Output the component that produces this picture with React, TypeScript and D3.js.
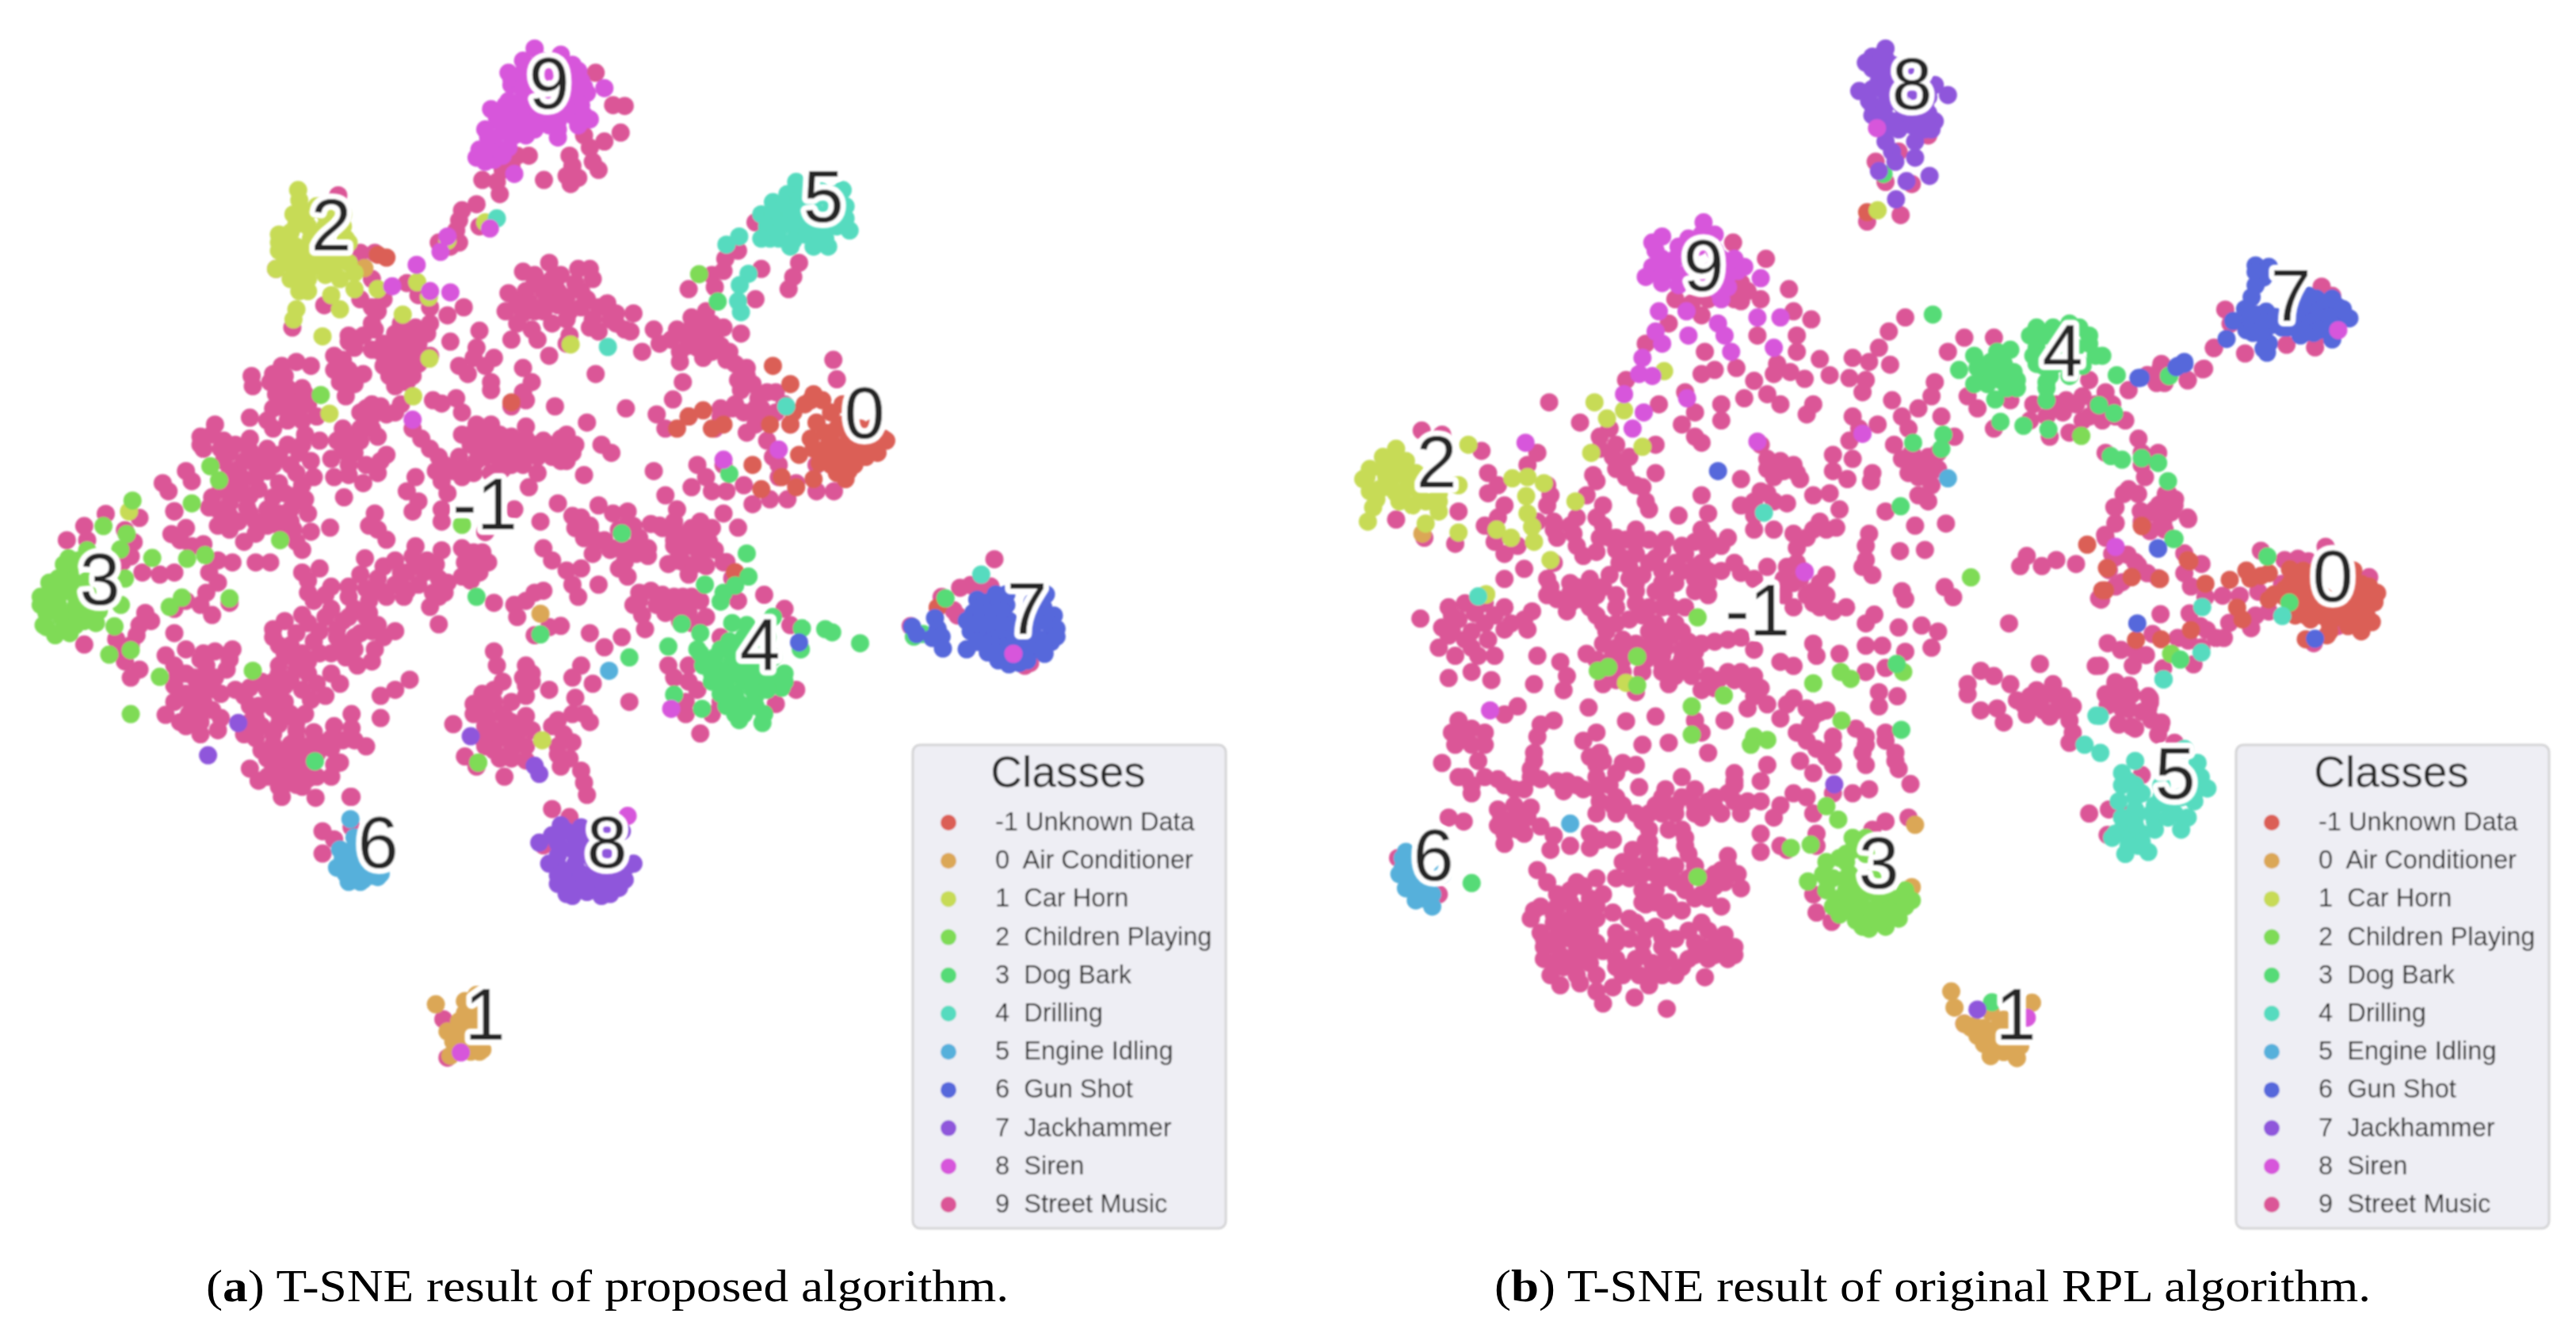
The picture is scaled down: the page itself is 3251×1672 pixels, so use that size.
import React from "react";
import * as d3 from "d3";

const palette = ["#db5f57","#dba757","#c7db57","#7fdb57","#57db77","#57dbbf","#57b0db","#5767db","#8f57db","#d757db","#db5797"];
const legendTitle = "Classes";
const legendLabels = ["-1 Unknown Data","0  Air Conditioner","1  Car Horn","2  Children Playing","3  Dog Bark","4  Drilling","5  Engine Idling","6  Gun Shot","7  Jackhammer","8  Siren","9  Street Music"];
const captionA = ["a",") T-SNE result of proposed algorithm."];
const captionB = ["b",") T-SNE result of original RPL algorithm."];
type P = [number, number];

// ---- Panel A, upper view
const a1Music: P[] = [[1025,180],[1055,260],[1075,262],[1068,328],[1040,350],[1015,365],[1005,335],[980,385],[1020,400],[985,410],[1030,420],[975,435],[995,440],[982,455],[936,445],[890,385],[910,385],[880,410],[865,420],[830,445],[855,450],[860,480],[990,225],[820,505],[795,520],[790,545],[785,570],[825,560],[790,600],[755,600],[775,610],
[582,483],[620,625],[645,625],[625,660],[640,690],[620,740],[558,755],[503,810],[475,665],[640,760],[660,740],[700,700],[720,730],[740,760],[770,780],[798,760],
[650,770],[640,800],[690,800],[715,810],[740,800],[600,830],[625,830],[610,860],[590,890],[575,880],[660,850],[680,850],[720,850],[665,880],[690,880],[700,920],[660,905],[725,830],[775,845],[825,818],[820,860],[850,885],[815,885],[790,905],[805,925],[835,905],[845,945],[845,965],[900,910],[915,945],[900,970],[905,990],[880,1005],
[575,915],[600,915],[585,945],[625,925],[610,950],[595,980],[680,955],[700,945],[710,930],[745,990],[760,998],[785,985],[795,1020],[795,1075],[810,1100],
[535,905],[510,895],[485,905],[470,925],[433,930],[435,955],[480,950],[490,985],[475,975],[505,990],[530,1000],[510,1015],[520,1040],[430,1033],[460,1040],[495,1040],[470,1060],
[630,1010],[655,1005],[680,1020],[640,1030],[665,1025],[710,1060],[725,1085],[740,1110],[755,1130],[765,1150],[790,1130],[800,1160],[795,1180],[820,1050],[845,1050],[905,1055],[830,1080],[860,1075],[880,1080],[820,1110],[850,1100],[880,1110],[835,1130],[860,1140],[900,1150],[925,1170],[910,1205],[845,1170],[920,1100],[945,1100],[975,1075],[965,1110],[990,1100],[950,1130],[975,1140],[1005,1175],[1010,1045],[1035,1100],[1052,1120],[1125,1165],
[640,1060],[620,1060],[600,1080],[580,1090],[590,1115],[610,1120],[570,1135],[600,1150],[600,1175],[625,1195],[655,1140],[665,1125],[650,1080],
[370,1050],[345,1080],[365,1075],[385,1090],[430,1085],[395,1120],[430,1115],[460,1110],[385,1140],[410,1160],[440,1150],[320,1165],[330,1190],[280,1195],[290,1215],[300,1265],[400,1190],[440,1180],[480,1195],[510,1170],[515,1120],[550,1090],[525,1075],[495,1100],[500,1150],[520,1200],[380,1200],[410,1220],[445,1210],[395,1245],[425,1255],[375,1260],[410,1290],[440,1290],[480,1270],[510,1240],[530,1270],[500,1290],[460,1300],[420,1340],[375,1300],[520,1360],[535,1315],[568,1305],[592,1230],
[715,1180],[700,1215],[720,1240],[710,1265],[770,1220],[760,1260],[760,1290],[885,1260],[930,1290],[960,1245],[645,1270],[635,1300],[665,1335],[650,1310],
[900,672],[945,650],[995,665],[1015,665],[950,690],[930,700],[990,700],[875,725],[935,720],[960,720],[1000,720],[890,750],[870,770],[920,770],[960,755],[1000,760],[1045,750],[890,800],[915,815],[880,840],[975,790],[1020,790],[1050,790],[1090,775],[1030,820],[1075,815],[1125,815],[945,880],[975,850],[1025,925],[1105,870],[1135,850],[1165,815],[1190,785],[1215,770],[1180,830],[1205,825],[1230,830],[1170,870],[1200,860],[1240,855],[1275,825],[1255,870],[1265,900],[1285,910],[1270,940],[1295,950],[1305,985],[1335,970],[1310,1010],[1280,1020],[1265,1000],[1240,1010],[1300,1050],[1335,1020],[1434,890],[1440,938],[1175,945],[1158,988],[1077,1010],[955,1005],
[1248,640],[1270,620],[1245,670],[1225,680],[1185,715],[1230,710],[1310,665],[1300,740],[1375,650],[1365,685],[1357,715],[1300,550],
[1130,1025],[1145,1060],[1185,1030],[1240,1030],[1260,1010],[1230,1060],[1285,1070],[1320,1090],[1330,1130],[1360,1050],[1340,1180],[1405,1150],[1200,1150],[1215,1180],[1190,1205],[1225,1215],[1250,1215],[1280,1200],[1245,1150],[1340,1150],[1370,1195],[1405,1215],[1435,1215],[1355,1235],[1325,1235],[1295,1247],
[1145,1225],[1165,1260],[1245,1270],[1270,1305],[1030,1250],[1055,1270],[1080,1265],[1000,1280],[1000,1310],[1020,1330],[1050,1360],[1085,1300],[1100,1330],[1135,1300],[1080,1355],[1115,1375],[1165,1320],[1190,1310],[1220,1310],[1160,1350],[1200,1360],[1175,1390],[1215,1400],[1260,1430]];
const a1MusicDense: P[] = [[920,680],[965,680],[920,700],[955,705],[975,735],[1020,690],[905,720],[940,745],[910,745],[900,775],[935,770],[950,800],[980,770],[1010,740],[1030,760],[1060,775],[1015,810],[980,830],[925,840],[1060,800],[1085,820],
[600,845],[645,815],[680,825],[705,830],[735,825],[640,865],[655,870],[700,860],[705,890],[680,915],[670,930],[720,900],[720,875],[740,880],
[490,930],[465,945],[495,960],[525,975],[520,960],[545,1030],[490,1010],[470,1010],[640,1000],[620,1020],[690,1000],
[345,1100],[380,1110],[405,1100],[420,1140],[455,1130],[470,1150],[395,1170],[420,1185],[460,1165],[480,1125],[520,1100],[535,1140],[540,1180],[515,1220],[490,1220],[470,1230],[430,1225],[390,1215],[365,1230],[360,1255],[395,1275],[430,1270],[460,1260],[500,1260],[525,1235],[395,1310],[440,1320],[480,1300],[505,1310],[510,1340],[350,1110],
[815,1070],[840,1090],[860,1110],[885,1090],[905,1085],[845,1120],[865,1160],[880,1150],[820,1140],[815,1170],[900,1120],[925,1130],[945,1120],[965,1085],[935,1090],[965,1140],[985,1120],
[1190,810],[1215,800],[1225,800],[1155,840],[1185,855],[1215,850],[1245,810],[1225,870],[1170,895],[1210,885],[1250,890],[1285,930],[1275,965],[1300,1010],[1320,970],[1320,1030],[1350,1000],
[1015,1300],[1040,1340],[1065,1310],[1075,1390],[1095,1370],[1150,1395],[1190,1350],[1220,1340],[1180,1330],[1205,1290],[1160,1290],[1230,1360],[1250,1390],[1020,1370],
[590,1060],[620,1090],[630,1150],[650,1170],[575,1180],[750,1165],[780,1165],[760,1190]];
const a1Siren: P[] = [[920,120],[965,135],[875,180],[900,150],[945,170],[980,170],[1000,200],[1010,230],[985,265],[950,290],[960,320],[960,340],[920,265],[900,240],[875,250],[845,270],[885,280],[920,320],[895,310],[860,300],[835,320],[850,355],[820,390],[850,395],[875,365],[1015,295],[995,310],[1040,218],[885,430],[905,205],[880,210],[930,240],[985,210],[955,245],[1000,260],[717,655],[675,708],[740,720],[775,723],[770,585],[758,623],[843,565],[1245,1137],[1340,1112],[710,1038],
[930,150],[960,150],[985,160],[900,180],[930,190],[960,190],[995,175],[880,195],[900,215],[925,215],[960,215],[985,235],[1005,215],[870,260],[890,260],[915,255],[945,265],[965,265],[985,285],[1005,285],[855,290],[880,300],[905,290],[935,300],[945,310],[840,340],[865,325],[885,335],[905,335],[825,370],[845,375],[865,385],[835,400],[920,300],[960,300]];
const a1Horn: P[] = [[513,470],[515,495],[545,510],[505,530],[480,580],[530,560],[500,600],[480,620],[515,630],[550,620],[590,560],[600,650],[575,660],[540,660],[510,670],[475,665],[530,720],[520,690],[570,730],[610,715],[650,715],[585,765],[510,765],[505,790],[555,832],[718,698],[738,735],[693,778],[739,887],[711,980],[567,1023],[982,852],[222,1265],[540,580],[560,600],[500,640],[600,600],[770,595],[835,550],
[530,525],[560,530],[510,555],[500,575],[535,590],[560,560],[595,590],[480,600],[510,610],[530,620],[570,620],[490,650],[525,645],[555,645],[585,640],[610,675],[560,680],[530,690],[500,690],[585,690],[515,720],[590,530]];
const a1Drill: P[] = [[1400,445],[1355,480],[1330,500],[1310,530],[1350,530],[1390,530],[1440,480],[1455,510],[1455,540],[1462,570],[1420,560],[1385,580],[1425,610],[1360,610],[1325,590],[1370,570],[1410,470],[1370,450],[1250,605],[1272,585],[1288,677],[1273,705],[1270,745],[1275,772],[855,540],[1046,858],[1353,1005],
[1380,470],[1350,505],[1375,500],[1400,500],[1430,500],[1450,470],[1330,530],[1370,530],[1410,530],[1435,530],[1320,560],[1345,560],[1370,545],[1395,555],[1440,560],[1340,590],[1400,590],[1400,610],[1310,590],[1420,590],[1365,595]];
const a1Unknown: P[] = [[1330,905],[1360,950],[1400,975],[1395,990],[1450,1000],[1365,1020],[1405,1045],[1360,1050],[1395,1085],[1440,1060],[1480,1060],[1520,1085],[1490,1100],[1450,1110],[1420,1110],[1510,1120],[1375,1125],[1410,1145],[1460,1165],[1440,1170],[1455,1185],[1400,1185],[1370,1205],[1345,1180],[1310,1210],[1295,1150],[1325,1050],[1210,1015],[1185,1030],[1225,1060],[1245,1050],[1165,1060],[880,995],[665,637],[650,630],[1500,1060],[1460,1130],[1265,1415],
[1420,1070],[1450,1050],[1470,1080],[1500,1080],[1430,1090],[1460,1090],[1400,1110],[1440,1130],[1480,1120],[1430,1150],[1470,1150],[1450,1140],[1525,1090],[1490,1130],[1385,1000],[1415,990],[1430,1020]];
const a1Kids: P[] = [[1203,678],[552,977],[377,1188],[362,1153],[330,1245]];
const a1Dog: P[] = [[1235,746],[1255,1172]];
const a1Air: P[] = [[627,663]];

// ---- Panel A, lower view
const a2Music: P[] = [[145,125],[115,160],[182,95],[240,105],[215,135],[230,165],[150,160],[225,200],[145,418],
[300,88],[295,145],[320,130],[310,160],[330,175],[350,170],[245,240],[275,245],[300,240],[210,215],[240,370],[250,340],[235,395],[200,405],[215,460],[225,500],[300,390],[300,330],[320,310],
[375,210],[400,215],[440,215],[465,215],[360,240],[375,265],[355,290],[345,320],[365,345],[395,315],
[520,240],[550,230],[530,260],[570,275],[600,275],[620,245],[628,205],[660,225],[690,240],[715,175],[710,200],[730,240],[755,255],[760,185],[765,290],[695,300],[740,325],[755,368],[655,285],[635,310],[610,330],[570,330],[540,310],[520,345],[490,360],[470,380],[510,390],[550,385],[590,360],[630,350],[650,370],
[470,400],[500,420],[540,410],[580,400],[620,390],[645,430],[680,385],[610,430],[570,440],[615,470],[530,460],[490,440],[510,480],[470,510],[545,515],[585,515],[535,555],[490,520],[460,530],[430,525],[400,430],[370,435],[350,440],[320,430],[285,445],[300,470],[320,490],[355,470],[390,480],[370,500],[300,520],[340,520],[310,550],[350,560],[380,540],[405,530],[285,592],[320,620],[345,640],[375,630],[430,570],[465,555],[440,600],[480,590],[510,610],[525,590],[420,640],[470,640],[510,650],[550,660],[590,655],[630,670],[605,625],[575,620],[605,590],[655,600],[655,545],[680,530],[705,505],[450,680],[490,680],[530,690],[575,715],[585,710],[430,725],[445,755],[490,730],[520,720],[480,770],[510,765],[545,745],[570,745],[485,795],[543,797],[605,795],[495,700],
[850,435],[855,470],[865,510],[905,470],[915,510],[905,545],[850,530],[815,565],[880,560],[945,530],[835,575],[865,590],[780,615],[835,620],[870,625],[905,595],[830,650],[860,650],[890,640],[915,630],[905,670],[880,680],[860,700],[800,695],[820,720],[905,705],[868,745],[960,605],[970,640],[950,620],[985,660],[960,690],[980,700],[990,550],[1005,590],[1015,610],[1000,730],[1005,760],[1010,790],[1083,560],[1020,515],[1000,470],[985,500],[1015,390],[1040,425],[1070,400],
[885,320],[920,290],[890,350],[905,310],[935,285],[945,375],[965,372],[920,395],
[795,180],[810,210],[825,240],[795,250],[850,315],[815,190],[835,140],
[935,180],[950,210],[975,235],[1000,230],[985,270],[995,300],[1030,270],[1065,230],[1080,250],[1090,320],[1105,345],[1110,380],[1120,285],[1160,300],[1170,330],[1145,340],[1185,340],[1200,370],[1215,350],[1190,300],[1160,130],[1175,160],[1170,200],[1200,150],[1225,130],[1210,190],[1185,245],[1245,215],[1270,310],[1315,295],[1350,330],[1360,370],
[1150,470],[1160,500],[1185,510],[1200,530],[1180,560],[1225,590],[1180,590],[1205,638],[1335,565],[1370,530],[1240,560],[1185,470],[1240,400],[1260,440],
[763,1345],[770,1440],[603,795],[555,880],[575,900],[555,935],[605,870],[950,825],[980,845],[935,915]];
const a2MusicDense: P[] = [[530,290],[560,295],[600,300],[630,280],[650,255],[680,270],[665,300],[635,340],[600,350],[560,350],[530,365],[580,380],[610,400],[640,385],[660,400],[480,420],[520,440],[550,440],[590,420],[640,460],[595,450],[480,470],[530,490],[570,490],[505,450],[480,490],[500,505],[520,530],[560,545],[450,510],[420,545],[470,545],[490,560],[445,570],[470,575],[500,590],[450,620],[480,615],[430,610],[510,630],[540,635],[570,650],[470,665],[500,665],[520,670],[480,700],[510,700],[460,700],[545,690],[470,720],[500,740],[530,750],[460,745],[495,760],[510,745],[480,745],[520,770],[610,655],[570,675],[440,650],[540,660],
[305,495],[335,500],[320,540],[335,550],[360,530],[365,580],[345,590],[325,590],[300,560],[380,600],[345,610],[355,500],[365,520],[345,455],[310,610],[330,565],[395,440],[395,455],[260,360],[225,420],[240,480],[215,430],
[690,270],[700,240],[720,225],[750,220],[735,210],[720,270],[745,290],[770,265],[700,285],[755,300],[680,210],[815,220],[800,215],[830,190],[840,215],[810,260],
[985,100],[990,130],[1015,130],[1005,155],[1040,160],[1090,125],[1120,120],[1140,130],[1100,170],[1115,180],[1060,180],[1080,120],[1160,160],[1190,130],[1215,170],[1165,210],[1195,220],[1100,290],[1140,295],[1130,320],[1175,300],[1150,320],[1205,310],[1170,360],[1190,365],[1100,310],
[830,540],[850,560],[815,590],[840,600],[870,600],[850,630],[880,610],[900,625],[835,670],[875,650],[850,680],[885,660],[880,700],[905,520],[915,490],[900,500],[985,590],[960,670],[965,720]];
const a2Kids: P[] = [[228,62],[178,125],[218,145],[207,183],[118,205],[150,185],[215,255],[120,240],[85,265],[105,290],[70,320],[100,320],[130,300],[150,330],[120,350],[80,375],[95,395],[120,390],[145,360],[170,335],[165,365],[197,373],[208,320],[262,204],[322,206],[353,197],[482,160],[395,304],[313,302],[292,325],[225,432],[188,443],[275,498],[435,483],[225,590],[795,122],[823,710],
[110,220],[125,260],[150,260],[100,255],[85,290],[125,290],[150,290],[70,300],[100,300],[130,325],[80,340],[105,350],[135,350],[75,370],[110,375],[130,370],[155,350],[90,320],[120,270],[135,210]];
const a2Dog: P[] = [[1070,143],[1285,193],[1288,250],[1213,270],[1265,272],[1245,290],[1240,312],[820,300],[930,393],[1173,367],[1205,390],[1150,423],[1200,430],[1260,365],[1380,378],[1420,380],[1432,388],[1480,415],[1378,430],[1083,450],[1160,542],[1208,577],[542,707],[1272,605],[1312,612],[1240,430],[1280,400],[1330,350],[1260,460],[1210,470],[1240,480],[1300,480],[1350,490],[1240,520],[1280,510],[1320,510],[1345,525],[1250,550],[1280,570],[1300,545],[1320,400],[1280,440],[1330,450],[1225,510],
[1230,450],[1260,430],[1290,440],[1310,430],[1225,470],[1260,490],[1280,480],[1320,480],[1225,490],[1250,510],[1295,510],[1340,500],[1240,540],[1265,540],[1295,530],[1320,530],[1270,560],[1300,570],[1280,590],[1315,590],[1265,590],[1250,570],[1350,510],[1205,440],[1255,410],[1285,370]];
const a2Jack: P[] = [[965,865],[1000,870],[928,908],[960,910],[990,900],[1040,880],[1070,880],[960,965],[990,960],[1020,950],[1050,960],[1080,965],[975,1035],[1000,1020],[1050,1035],[1075,1000],[1030,1010],[975,1000],[1010,990],[960,940],[1000,930],[1040,920],[410,612],[358,692],[810,645],[920,718],[928,738],
[975,880],[950,890],[985,925],[1015,900],[945,960],[970,980],[1000,985],[1030,980],[1060,985],[1090,960],[1075,970],[1000,1000],[1040,1020],[960,1010],[1010,1030],[980,1020],[1060,930],[1065,1020],[1020,925],[1035,1040],[1070,1005],[1050,1000],[985,1040],[1030,960],[960,990]];
const a2Siren: P[] = [[1080,842],[1155,577],[793,1427]];
const a2Engine: P[] = [[603,850],[585,925],[610,920],[600,960],[595,985],[620,1005],[650,993],[635,970],[620,950],[1048,483],[595,935],[620,975],[600,1005],[640,990],[590,945],[610,945],[580,970],[605,985],[625,1000],[655,985],[610,895]];
const a2Air: P[] = [[750,1308],[820,1285],[810,1330],[790,1350],[780,1375],[810,1370],[830,1395],[800,1400],[825,1425],[775,1435],[930,342],[800,1330],[790,1370],[770,1375],[800,1375],[820,1350],[820,1400],[790,1410],[810,1425],[830,1420],[780,1400],[815,1310],[830,1380],[800,1300]];
const a2Unknown: P[] = [[1265,240]];
const a2Gun: P[] = [[1375,413]];
const a2Horn: P[] = [[933,655]];

// ---- Panel A, class 7 close view
const a3Music: P[] = [[465,137],[335,245],[375,235],[450,240],[405,265],[265,280],[310,330],[325,350],[148,390],[580,540],[600,530],[420,260]];
const a3Unknown: P[] = [[250,320]];
const a3Dog: P[] = [[195,420],[160,430],[280,285]];
const a3Gun: P[] = [[153,392],[170,420],[240,360],[250,400],[230,435],[265,430],[270,475],[360,478],[400,290],[385,340],[375,410],[420,350],[440,300],[480,290],[510,310],[520,370],[470,350],[420,420],[470,420],[520,430],[440,490],[480,520],[520,535],[560,480],[610,480],[655,495],[680,420],[690,350],[650,320],[620,380],[640,300],[570,420],[530,490],[600,440],[660,270],
[410,320],[440,340],[490,330],[360,370],[400,380],[440,380],[490,380],[540,420],[620,350],[660,350],[670,380],[700,400],[640,440],[680,450],[650,470],[590,520],[560,530],[450,450],[500,470],[400,450],[540,460],[500,510],[440,460],[470,490],[590,470],[700,430],[610,300],[630,270],[510,270],[470,270]];
const a3Drill: P[] = [[415,195]];
const a3Siren: P[] = [[537,495]];

// ---- Panel B, upper view
const b1Music: P[] = [[945,335],[865,400],[880,450],[920,455],[900,375],[852,548],[903,532],
[648,600],[698,640],[733,715],[690,740],[660,700],[610,740],[585,750],[740,770],[767,790],[745,830],[685,830],[605,870],[550,800],[515,850],[600,780],[745,870],[780,888],[715,900],[620,915],[600,925],[653,910],[795,928],[757,937],[735,920],[710,925],[680,942],[700,975],[720,1000],[770,1000],[760,1025],[665,985],[830,885],[855,895],[887,902],[870,860],[885,820],[910,785],[825,935],[850,940],[845,970],[575,970],[590,1020],[630,1000],[630,1040],[570,1050],[590,1080],[600,1095],[535,1000],[485,940],[368,995],[415,1045],[460,1060],[445,1080],[470,1100],[490,1130],[465,1130],[530,1100],[480,1160],[435,1175],[425,1225],[530,1170],[510,1205],[520,1260],[450,1250],[440,1280],[485,1180],[460,1330],[500,1310],
[174,1065],[205,1075],[265,1115],[135,1285],[230,1265],[225,1345],[178,1330],[350,1120],[275,1170],[275,1220],[290,1280],[270,1300],[285,1340],[300,1370],[335,1150],[365,1200],[365,1250],[375,1290],[380,1330],[320,1350],[410,1280],[405,1320],[420,1375],[445,1330],
[660,1185],[690,1100],[700,1135],[710,1180],[740,1150],[750,1185],[770,1225],[795,1220],[690,1215],[730,1245],[660,1250],[600,1225],[610,1270],[565,1275],[520,1335],[545,1335],[485,1335],[600,1310],[640,1330],[575,1370],[680,1275],[710,1310],[780,1290],[810,1260],[805,1305],[760,1330],[745,1355],[855,1320],[850,1350],[850,1385],[800,1125],[830,1135],[860,1170],[800,1165],[822,1185],[858,1190],[880,1265],[925,1300],[972,1295],[945,1240],[930,1225],[902,1363],[940,1360],
[890,990],[905,1030],[915,1060],[930,1010],[950,980],[955,945],[830,1030],[840,1060],[868,1050],[825,1090],[893,1100],[905,1135],[925,1150],[940,1175],[965,1030],[985,1080],[960,1160],[950,1200],
[975,870],[1000,835],[1045,835],[1005,980],[1020,1010],[1045,1060],[1070,990],[1105,1000],[1125,1030],[1130,1080],[1155,990],[1180,980],[1190,940],[1215,970],[1250,965],[1245,1040],[1265,1085],[1215,1120],[1270,1120],[1295,1120],[1180,1040],[1160,1070],[1300,900],[1340,940],[1365,912],[1380,860],[1270,1150],[1275,1180],[1250,1210],[1310,1220],[1290,1260],[1340,1280],[1305,1310],[1230,1255],[1230,1295],[1215,1330],[1270,1290],
[1095,1375],[1085,1400],[1118,1400],[1140,1385],[1170,1395],[1225,1370],[1220,1410],[1260,1390],[1295,1430],[1205,1480],[1240,1440],
[600,720],[560,740],[650,740],[670,720],[660,745],[720,1140],[725,1165],[745,1170],[700,1160],[680,1240],[710,1240],[700,1220],[1170,1000],[1200,1000],[1190,1030],[1225,1000],[1210,1040],[1150,1020],[1100,1040]];
const b1MusicDense: P[] = [[445,1110],[470,1160],[500,1200],[440,1190],[515,1240],[400,1300],[450,1300],[470,1330],[410,1350],[440,1365],[470,1360],[500,1340],[500,1370],[530,1380],[480,1380],[540,1360],[570,1350],[590,1340],[610,1330],[630,1350],[680,1310],[610,1360],[740,1320],[770,1310],[790,1310],[290,1200],[300,1250],[285,1310],[370,1225],[375,1310],[350,1290],[920,1120],[945,1130],[960,1120],[915,1170],[945,1150],[930,1180],[1300,1250],[1320,1250],[1300,1290],[1280,1270],[1140,1000],[1230,1030]];
const b1Jack: P[] = [[880,120],[860,140],[860,170],[890,160],[840,225],[975,235],[870,200],[900,240],[860,260],[880,290],[910,280],[935,290],[955,300],[950,320],[880,350],[890,375],[925,350],[925,390],[895,400],[870,423],[912,448],[947,435],[896,493],[955,210],[910,170],[880,230],[930,260],
[875,135],[850,155],[875,180],[885,205],[860,220],[855,250],[880,260],[905,205],[900,225],[925,225],[945,240],[905,260],[875,275],[895,300],[860,285],[920,310],[940,260],[945,280],[880,320],[900,320],[940,320],[880,145],[915,280]];
const b1Siren: P[] = [[867,317],[603,550],[540,585],[580,590],[620,580],[530,620],[560,640],[640,660],[515,685],[540,700],[570,680],[655,670],[640,710],[630,740],[690,688],[720,785],[685,785],[535,770],[577,770],[530,820],[580,830],[625,800],[635,830],[645,870],[540,850],[510,885],[505,925],[525,930],[710,860],[482,975],[512,1020],[578,985],[495,1060],[685,1092],[845,1073],[332,1095],[757,1415],
[600,580],[565,610],[595,610],[540,640],[580,640],[620,620],[630,640],[525,660],[555,670],[590,700],[610,700],[615,670],[650,640],[540,680],[565,705],[640,680],[625,720],[665,660],[620,710],[525,600]];
const b1Horn: P[] = [[868,520],[135,1110],[115,1130],[150,1140],[95,1160],[85,1185],[130,1180],[165,1170],[110,1210],[150,1210],[100,1255],[140,1240],[180,1240],[200,1265],[92,1290],[180,1295],[230,1317],[245,1100],[230,1200],[312,1183],[335,1180],[360,1195],[333,1227],[335,1270],[342,1303],[345,1340],[288,1310],[310,1330],[370,1385],[408,1240],[432,1120],[510,1105],[437,995],[456,1035],[482,1015],[543,918],[272,1470],
[135,1130],[115,1160],[150,1165],[90,1180],[125,1205],[170,1195],[105,1235],[135,1220],[170,1215],[200,1220],[120,1180],[155,1190],[190,1240],[160,1250],[200,1240],[95,1215],[130,1150]];
const b1Unknown: P[] = [[852,525],[1187,1347],[1270,1300],[1217,1405],[1210,1460],[1255,1427],[1297,1432],[1340,1385]];
const b1Dog: P[] = [[952,778],[992,915],[1015,880],[1040,895],[1070,865],[1075,920],[1030,920],[1055,940],[1080,960],[1047,988],[1110,810],[1135,810],[1160,800],[1190,830],[1110,860],[1200,880],[1180,905],[1140,900],[1110,900],[1125,960],[1125,990],[1232,928],[1205,1002],[1228,1022],[1055,1043],[1090,1053],[1128,1062],[1223,1128],[1240,1137],[1270,1133],[1295,1145],[968,1075],[965,1110],[922,1095],[903,1252],[1310,1190],[1318,1333],[877,430],
[1125,830],[1155,820],[1175,810],[1120,880],[1140,860],[1170,860],[1190,850],[1210,880],[1130,930],[1160,930],[1105,880],[1100,830],[1120,905],[1125,945],[1050,870],[1020,910],[1045,915],[1060,900],[1080,940],[1035,950],[1015,950],[1065,960]];
const b1Kids: P[] = [[1178,1078],[1312,930],[1010,1428]];
const b1Gun: P[] = [[1265,935],[1325,905],[1335,900],[625,1165],[1295,1357]];
const b1Engine: P[] = [[975,1183]];
const b1Drill: P[] = [[695,1268]];
const b1Air: P[] = [[175,1320]];

// ---- Panel B, lower view
const b2Music: P[] = [[172,158],[215,130],[240,120],[270,120],[300,130],[205,180],[230,160],[270,170],[300,185],[240,210],[260,250],[225,250],[200,230],[285,250],[215,305],[250,290],[280,310],[335,185],[342,140],[370,80],[400,70],[430,60],[380,110],[415,110],[350,250],[385,265],[395,300],[345,320],[390,335],[425,245],
[440,150],[470,130],[500,120],[530,90],[560,70],[590,60],[610,100],[575,130],[520,130],[470,100],[455,190],[490,160],[530,170],[560,170],[555,200],[530,210],[580,215],[450,220],[480,210],[465,250],[515,260],[540,250],[570,260],[540,290],[480,290],[560,300],[500,340],[590,240],[620,215],[640,210],[660,205],[680,235],[720,265],[740,275],[775,250],[770,220],[810,245],[850,170],[850,225],[875,225],[900,180],[910,240],[935,175],[960,190],[950,230],[850,290],[880,280],
[300,60],[330,35],[375,20],[475,20],[490,60],[540,40],[630,40],[680,60],[740,70],[760,100],[740,130],[780,130],[800,140],[820,130],[730,30],[770,90],[863,148],[905,90],[910,110],[970,80],[983,105],[845,30],[860,50],[1068,170],
[680,350],[650,310],[620,330],[600,335],[670,320],[740,355],[700,370],[670,380],[720,405],[760,380],[790,385],[765,420],[745,440],[775,480],[800,470],[835,430],[850,470],[880,460],[870,340],[870,375],[898,350],[895,510],[900,530],[918,567],[850,520],[800,520],[770,540],[750,510],[700,520],[650,540],[650,570],[690,560],[740,590],[720,620],[760,600],[800,590],[830,590],[855,580],[770,640],[710,650],[690,690],[690,735],[730,730],[775,690],[775,720],[880,660],[860,680],[915,650],
[428,378],[485,412],[530,400],[590,410],[635,410],[600,440],[550,465],[510,470],[480,515],[500,520],[440,440],[420,460],[445,490],[355,420],[375,410],[350,450],[440,520],[440,550],[460,570],[470,600],[420,580],[390,585],[440,640],[470,640],[505,575],[545,580],[590,580],[610,610],[560,620],[620,625],[650,610],[690,610],[610,490],[570,550],[520,640],[510,660],[540,640],[590,640],[570,680],
[320,375],[300,395],[230,410],[220,440],[250,470],[260,510],[270,440],[205,515],[230,550],[270,550],[300,570],[330,580],[345,510],[340,530],[355,555],[380,560],[410,570],[250,590],[215,650],[238,660],[290,630],[320,640],[340,625],[290,670],[320,680],[300,715],[355,672],[375,695],[370,730],[400,720],[430,690],[465,705],[430,725],[520,710],[575,720],[520,750],[500,770],[560,770],[640,745],[630,780],[655,790],[660,825],[620,820],[610,850],[630,870],[590,770],[540,800],[490,800],[515,865],[470,800],[440,800],[410,810],[350,780],[365,810],[380,840],[400,860],[440,870],[465,885],[510,860],[550,860],[570,880],[600,910],[635,940],[650,970],[620,990],[640,1000],[590,960],[560,950],[530,920],[500,910],[470,935],[490,950],[430,900],[410,920],[400,950],[375,890],[340,900],[355,935],[360,970],[385,990],[390,1020],[430,980],[430,1010],[470,1000],[490,1020],[510,990],[540,970],[540,1010],[520,1040],[560,1040],[605,1045],[385,1065],[415,1060],[440,1080],[465,1070],[450,1110],[498,1095],[547,1123],[520,1065],[570,1020],
[1025,287],[1045,300],[1070,320],[1005,320],[1005,345],[1025,385],[1050,380],[1060,415],[1090,370],[1110,335],[1115,270],[1135,320],[1115,370],[1150,370],[1130,400],[1160,410],[1165,440],[1160,465],[1200,275],[1230,315],[1215,345],[1250,350],[1240,380],[1280,350],[1280,380],[1300,415],[1235,420],[1260,430],[1295,445],[1320,465],
[1190,640],[1220,630],[1240,640],[1218,693],[1270,545],[775,885],[798,908],[770,840],[720,720],[200,840],[138,750],[1000,1160],
[510,150],[545,190],[570,190],[520,190],[500,220],[545,230],[570,235],[510,290],[575,285],[470,170],[540,130],[220,150],[255,145],[285,150],[220,190],[250,190],[250,230],[275,210],[215,200],[400,95],[400,120],[430,90],[500,90],[545,100],[590,90],[555,130],[610,70],[510,50],[570,40],[590,30],[725,60],[750,60],[780,70],[725,100],[790,100],[1100,350],[1130,345],[1150,350],[1095,395],[1120,385],[1140,385],[1080,360],[1165,375],[385,860],[375,910],[400,900],[430,930],[415,950],[375,950],[380,970],[410,980],[380,1020],[410,1010],[410,1040],[360,1000],[515,930],[540,945],[510,960],[525,1010],[505,1040],[590,990],[600,970],[620,965],[640,975],[580,1000],[550,1000],[540,1040],[500,1000],[555,800],[575,830],[590,850],[510,790],[530,830],[310,660],[335,650],[300,690]];
const b2MusicDense: P[] = [[365,60],[365,100],[410,80],[440,100],[395,140],[430,130],[460,50],[490,30],[520,20],[560,20],[610,40],[600,20],[650,20],[540,70],[450,80],[500,70],[745,20],[755,40],[790,50],[770,120],[660,45],[700,30],[330,160],[310,170],
[450,170],[440,260],[470,230],[445,285],[490,240],[480,260],[470,310],[450,320],[540,270],[560,280],[590,270],[600,220],[520,240],[510,230],[585,300],[550,320],[640,290],[660,290],[680,300],[610,300],[625,310],[690,330],
[730,370],[780,390],[770,400],[760,460],[800,450],[790,500],[850,450],[880,440],[845,490],[895,490],
[620,600],[640,590],[670,610],[590,620],[570,600],[545,620],[540,600],[660,640],[630,640],[600,650],[650,560],[530,620],[560,640],[520,680],[515,710],[575,700],[580,740],[520,730],[550,680],[500,640],
[450,510],[430,500],[470,540],[440,580],[480,620],[465,620],[445,610],[345,490],[340,550],[395,560],[240,440],[225,470],[270,470],[250,430],[240,550],[290,555],[250,570],[315,580],[315,620],[295,650],[330,690],[445,705],
[530,790],[500,790],[540,770],[560,810],[600,800],[620,790],[600,840],[640,770],[635,810],[580,800],[480,760],[495,730],[510,830],[530,860],[545,880],[420,820],[450,840],[430,850],[400,830],[380,870],[415,880],[440,900],[355,870],[345,880],
[395,930],[360,950],[440,960],[450,980],[440,1040],[400,1000],[370,1040],[490,900],[470,960],[470,1020],[480,1040],[610,930],[580,930],[610,1000],[650,990],[630,960]];
const b2Drill: P[] = [[1335,480],[1260,510],[1355,515],[1240,540],[1240,570],[1370,578],[1350,610],[1320,640],[1290,620],[1260,600],[1235,610],[1330,680],[1290,660],[1260,650],[1240,680],[1250,700],[1270,690],[1280,735],[1245,740],[1265,720],[1300,570],[1260,570],[1201,398],[1183,470],[1207,490],[1303,308],[260,103],
[1250,560],[1270,590],[1300,600],[1330,600],[1350,590],[1310,620],[1285,640],[1260,630],[1240,650],[1230,690],[1260,670],[1290,680],[1310,650],[1270,710],[1250,720],[1225,700],[1340,650],[1360,550],[1345,570]];
const b2Kids: P[] = [[812,290],[827,307],[770,318],[634,348],[585,375],[585,445],[680,450],[700,458],[675,470],[813,410],[907,290],[502,252],[458,278],[442,287],[502,323],[790,622],[808,655],[736,725],[766,717],[594,797],[830,700],[850,700],[820,740],[790,760],[785,790],[762,808],[800,800],[825,790],[790,830],[815,860],[840,880],[870,860],[900,880],[910,850],[920,855],[880,900],[855,925],[850,835],[880,850],[910,830],[830,850],[860,800],[594,155],
[820,830],[840,850],[860,830],[880,830],[900,850],[810,850],[800,870],[820,880],[845,870],[870,880],[895,870],[835,905],[860,900],[885,880],[910,870],[880,920],[900,900],[845,920],[810,890],[870,910],[840,820],[820,800],[790,800],[830,730],[820,760],[850,740],[810,750]];
const b2Dog: P[] = [[897,270],[904,433],[250,812],[1042,1107]];
const b2Air: P[] = [[925,668],[920,822],[980,1080],[985,1120],[1000,1160],[1030,1170],[1060,1150],[1020,1190],[1050,1200],[1080,1190],[1040,1240],[1080,1245],[1065,1210],[1103,1108],
[1010,1170],[1040,1130],[1060,1180],[1040,1190],[1030,1210],[1060,1230],[1070,1170],[1085,1215],[1040,1215],[1075,1225],[1015,1165],[1050,1170],[1020,1180]];
const b2Engine: P[] = [[150,735],[145,775],[150,825],[175,850],[190,870],[160,800],[185,810],[205,790],[400,665],[145,750],[140,790],[160,830],[180,830],[165,770],[190,840],[165,855]];
const b2Siren: P[] = [[278,385],[1095,1145],[757,42]];
const b2Jack: P[] = [[1020,1125],[802,568]];
const b2Horn: P[] = [[485,317],[272,98]];

// ---- Panel B, class 0 close view
const b3Music: P[] = [[90,10],[145,10],[250,10],[285,30],[225,50],[55,60],[155,75],[270,80],[335,105],[60,120],[240,120],[190,150],[20,165],[320,235],[385,275],[320,310],[345,360],[400,400],[60,250],[105,240],[145,280],[180,310],[60,360],[5,410],[230,465],[340,462],[200,540],[295,555],[380,510],[405,525],[335,565],[385,590],[355,655],[240,670],[125,660],[175,620],[130,600],[80,600],[30,575],[470,555],[440,555],[465,395],[530,395],[490,498],[573,518],[590,470],[640,455],[600,380],[610,225],[700,260],[750,255],[790,265],[690,350],[855,210],[1020,325],[900,510],[810,575],[0,660],[60,730],[110,735],[30,775],[70,780],[120,770],[190,785],[190,800],[110,825],[160,835],[195,865],[70,880],[120,890],[230,890],[30,810]];
const b3Unknown: P[] = [[160,132],[340,265],[30,292],[120,325],[228,332],[20,375],[400,350],[492,335],[555,300],[570,330],[640,310],[610,320],[520,440],[540,485],[345,525],[137,563],[232,560],[720,295],[770,300],[660,390],[640,410],[720,350],[760,380],[800,430],[740,470],[798,485],[870,450],[870,500],[920,450],[970,430],[1020,360],[1050,385],[1000,420],[1030,495],[990,530],[960,490],[860,545],[780,560],[820,300],[960,300],[950,350],[700,400],[850,400],[790,340],
[730,320],[760,330],[700,370],[740,410],[770,410],[800,390],[830,430],[860,430],[900,440],[890,470],[920,480],[940,450],[1000,380],[990,350],[1040,420],[990,450],[1010,470],[950,400],[940,510],[990,500],[870,530],[1020,430],[770,430],[960,400],[730,440],[950,470],[780,470],[840,470]];
const b3Dog: P[] = [[283,180],[635,247],[718,421],[305,637]];
const b3Kids: P[] = [[270,615]];
const b3Drill: P[] = [[388,438],[385,610],[242,712],[691,472],[0,850]];
const b3Gun: P[] = [[220,215],[142,500],[815,558]];
const b3Siren: P[] = [[60,210]];

// ---- Panel B, class 7 close view
const b4Music: P[] = [[325,272],[345,325],[282,418],[400,438],[557,405],[665,415],[670,380],[690,185],[730,220],[240,498],[183,540],[95,550],[65,550],[80,495],[30,520]];
const b4Gun: P[] = [[330,383],[440,105],[490,110],[470,150],[440,180],[425,225],[400,270],[355,315],[405,350],[450,320],[480,280],[470,370],[490,400],[483,435],[580,330],[610,370],[640,340],[660,300],[670,230],[640,260],[610,290],[700,270],[750,260],[760,300],[795,305],[730,385],[700,340],[515,300],[170,470],[140,490],[5,530],
[420,310],[440,290],[470,320],[500,330],[430,360],[540,340],[560,340],[620,320],[650,320],[620,260],[640,220],[680,300],[720,300],[730,330],[680,350],[600,350],[660,360],[440,130],[480,130],[460,360],[470,420],[730,230],[770,270],[625,360]];
const b4Siren: P[] = [[753,350]];
const b4Dog: P[] = [[112,523]];

const labelTexts = ["9","2","5","0","-1","3","4","7","6","8","1"];
const labelPosA: P[] = [[693,104],[418,283],[1039,247],[1091,520],[612,635],[126,730],[959,812],[1296,767],[477,1062],[766,1062],[612,1279]];
const labelTextsB = ["8","9","7","4","2","0","-1","5","6","3","1"];
const labelPosB: P[] = [[2413,105],[2150,334],[2891,372],[2603,441],[1813,582],[2944,726],[2218,769],[2745,975],[1809,1078],[2371,1088],[2544,1279]];

const W = 3251, H = 1672;
const view = (dx: number, dy: number, rx: [number, number], ry: [number, number]) => ({
  x: d3.scaleLinear().domain([0, dx]).range(rx),
  y: d3.scaleLinear().domain([0, dy]).range(ry),
});
const views = {
  a1: view(1568, 1568, [0, 1150], [0, 800]),
  a2: view(1568, 1568, [0, 1150], [600, 1400]),
  a3: view(900, 660, [1100, 1400], [660, 880]),
  b1: view(1568, 1568, [1650, 2950], [0, 800]),
  b2: view(1568, 1568, [1650, 2950], [700, 1500]),
  b3: view(1200, 900, [2650, 3050], [620, 920]),
  b4: view(900, 600, [2700, 3000], [300, 500]),
};
type Layer = [P[], keyof typeof views, number];
// Street Music first so the compact clusters sit on top of it.
const layers: Layer[] = [
  [a1Music,"a1",10],[a1MusicDense,"a1",10],[a2Music,"a2",10],[a2MusicDense,"a2",10],[a3Music,"a3",10],[b1Music,"b1",10],[b1MusicDense,"b1",10],[b2Music,"b2",10],[b2MusicDense,"b2",10],[b3Music,"b3",10],[b4Music,"b4",10],
  [a1Unknown,"a1",0],[a2Unknown,"a2",0],[a3Unknown,"a3",0],[b1Unknown,"b1",0],[b3Unknown,"b3",0],
  [a1Air,"a1",1],[a2Air,"a2",1],[b1Air,"b1",1],[b2Air,"b2",1],
  [a1Horn,"a1",2],[a2Horn,"a2",2],[b1Horn,"b1",2],[b2Horn,"b2",2],
  [a1Kids,"a1",3],[a2Kids,"a2",3],[b1Kids,"b1",3],[b2Kids,"b2",3],[b3Kids,"b3",3],
  [a1Dog,"a1",4],[a2Dog,"a2",4],[a3Dog,"a3",4],[b1Dog,"b1",4],[b2Dog,"b2",4],[b3Dog,"b3",4],[b4Dog,"b4",4],
  [a1Drill,"a1",5],[a3Drill,"a3",5],[b1Drill,"b1",5],[b2Drill,"b2",5],[b3Drill,"b3",5],
  [a2Engine,"a2",6],[b1Engine,"b1",6],[b2Engine,"b2",6],
  [a2Gun,"a2",7],[a3Gun,"a3",7],[b1Gun,"b1",7],[b3Gun,"b3",7],[b4Gun,"b4",7],
  [a2Jack,"a2",8],[b1Jack,"b1",8],[b2Jack,"b2",8],
  [a1Siren,"a1",9],[a2Siren,"a2",9],[a3Siren,"a3",9],[b1Siren,"b1",9],[b2Siren,"b2",9],[b3Siren,"b3",9],[b4Siren,"b4",9],
];

const sans = "'Liberation Sans', Arial, sans-serif";
const serif = "'Liberation Serif', serif";

function Legend({ x }: { x: number }) {
  const row = d3.scaleLinear().domain([0, 10]).range([1038, 1520]);
  return (
    <g filter="url(#soft)">
      <rect x={x} y={940} width={395} height={610} rx={9} fill="#eeeef4" stroke="#d4d4d6" strokeWidth={3} />
      <text x={x + 196} y={993} fontSize={55} fontFamily={sans} fill="#262626" textAnchor="middle">{legendTitle}</text>
      {legendLabels.map((t, i) => (
        <g key={t}>
          <circle cx={x + 45} cy={row(i)} r={10} fill={palette[i]} />
          <text x={x + 104} y={row(i) + 10} fontSize={32.6} fontFamily={sans} fill="#262626" style={{ whiteSpace: "pre" }}>{t}</text>
        </g>
      ))}
    </g>
  );
}

function Labels({ texts, pos }: { texts: string[]; pos: P[] }) {
  return (
    <g filter="url(#soft)">
      {texts.map((t, i) => (
        <text key={t} x={pos[i][0]} y={pos[i][1] + 33} fontSize={92} fontFamily={sans} textAnchor="middle" fill="#262626" stroke="#fff" strokeWidth={14} strokeLinejoin="round" paintOrder="stroke">{t}</text>
      ))}
    </g>
  );
}

function Caption({ x, len, parts }: { x: number; len: number; parts: string[] }) {
  return (
    <text x={x} y={1642} fontSize={58} fontFamily={serif} fill="#000" textLength={len} lengthAdjust="spacingAndGlyphs">
      (<tspan fontWeight="bold">{parts[0]}</tspan>{parts[1]}
    </text>
  );
}

export default function App() {
  return (
    <svg width={W} height={H} viewBox={`0 0 ${W} ${H}`} style={{ position: "absolute", left: 0, top: 0, background: "#fff" }}>
      <defs>
        <filter id="soft" x="-5%" y="-5%" width="110%" height="110%"><feGaussianBlur stdDeviation={0.8} /></filter>
      </defs>
      <g filter="url(#soft)">
        {layers.map(([pts, v, c], i) => (
          <g key={i} fill={palette[c]}>
            {pts.map((p, j) => (
              <circle key={j} cx={views[v].x(p[0])} cy={views[v].y(p[1])} r={11.5} />
            ))}
          </g>
        ))}
      </g>
      <Labels texts={labelTexts} pos={labelPosA} />
      <Labels texts={labelTextsB} pos={labelPosB} />
      <Legend x={1152} />
      <Legend x={2822} />
      <Caption x={260} len={1013} parts={captionA} />
      <Caption x={1886} len={1106} parts={captionB} />
    </svg>
  );
}
